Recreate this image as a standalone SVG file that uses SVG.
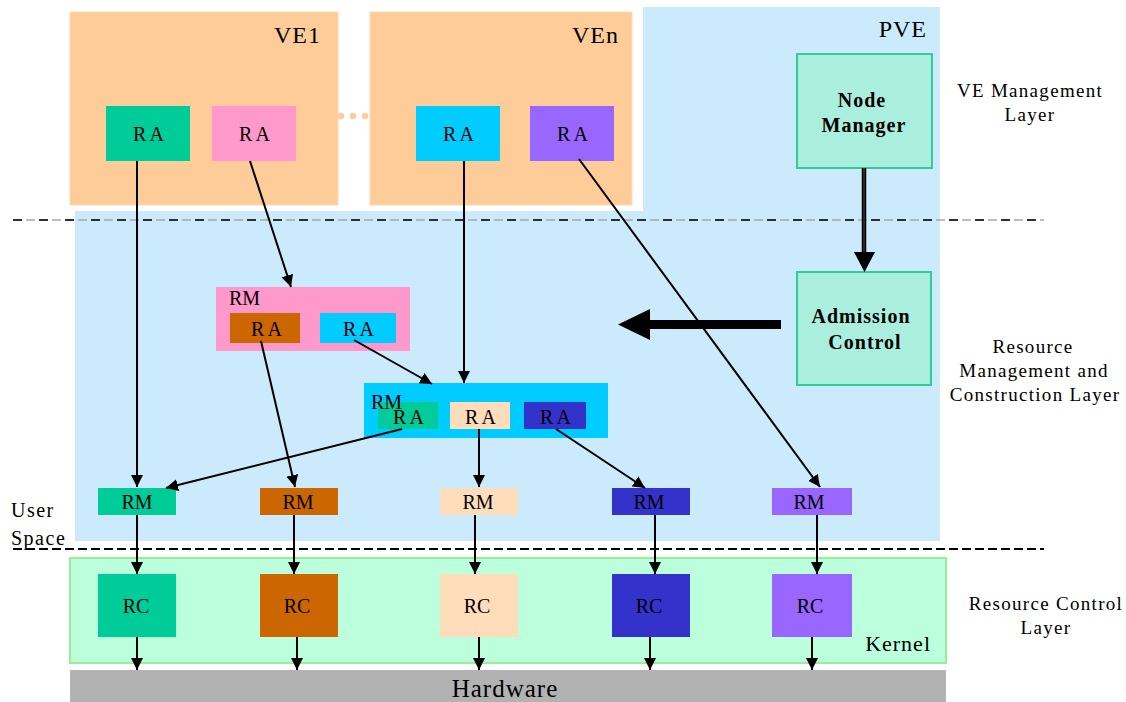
<svg xmlns="http://www.w3.org/2000/svg" width="1126" height="702" viewBox="0 0 1126 702">
  <style>
    text { font-family: "Liberation Serif", "Times New Roman", serif; fill: #000; }
    .lbl { font-size: 20px; text-anchor: middle; }
    .ra { font-size: 20px; text-anchor: middle; letter-spacing: 3px; }
    .big { font-size: 24px; text-anchor: end; letter-spacing: 1px; }
    .layer { font-size: 19px; text-anchor: middle; letter-spacing: 1.3px; }
    .bold { font-size: 20px; font-weight: bold; text-anchor: middle; letter-spacing: 1px; }
    .conn line { stroke: #000; stroke-width: 2; }
  </style>
  <defs>
    <marker id="ah" viewBox="0 0 10 10" refX="10" refY="5" markerWidth="6" markerHeight="6" markerUnits="strokeWidth" orient="auto">
      <path d="M0,0 L10,5 L0,10 z" fill="#000"/>
    </marker>
  </defs>

  <rect width="1126" height="702" fill="#fff"/>

  <!-- PVE area: upper column plus the wide management band -->
  <g id="pve">
    <path d="M643,7 H940 V541 H75 V211 H643 Z" fill="#CBEBFD"/>
    <text class="big" x="927" y="37">PVE</text>
  </g>

  <!-- Virtual environments -->
  <g id="ve1">
    <rect x="70" y="12" width="268" height="193" fill="#FDCC99" stroke="#FFD9B0" stroke-width="1"/>
    <text class="big" x="321" y="43">VE1</text>
  </g>
  <g id="ven">
    <rect x="370" y="12" width="262" height="193" fill="#FDCC99" stroke="#FFD9B0" stroke-width="1"/>
    <text class="big" x="619" y="43">VEn</text>
  </g>
  <g id="dots" fill="#FDCC99">
    <circle cx="341" cy="116" r="3.2"/>
    <circle cx="353" cy="116" r="3.2"/>
    <circle cx="365" cy="116" r="3.2"/>
  </g>

  <g id="ra-ve1-green">
    <rect x="106" y="106" width="84" height="55" fill="#00CC99"/>
    <text class="ra" x="150" y="141">RA</text>
  </g>
  <g id="ra-ve1-pink">
    <rect x="212" y="106" width="84" height="55" fill="#FF99CC"/>
    <text class="ra" x="256" y="141">RA</text>
  </g>
  <g id="ra-ven-cyan">
    <rect x="416" y="106" width="84" height="55" fill="#00CCFF"/>
    <text class="ra" x="460" y="141">RA</text>
  </g>
  <g id="ra-ven-purple">
    <rect x="530" y="106" width="84" height="55" fill="#9966FF"/>
    <text class="ra" x="574" y="141">RA</text>
  </g>

  <!-- Management blocks -->
  <g id="node-manager">
    <rect x="797" y="54" width="135" height="114" fill="#AAEEDD" stroke="#33CC99" stroke-width="2"/>
    <text class="bold" x="862" y="107">Node</text>
    <text class="bold" x="864" y="132">Manager</text>
  </g>
  <g id="admission-control">
    <rect x="797" y="272" width="134" height="113" fill="#AAEEDD" stroke="#33CC99" stroke-width="2"/>
    <text class="bold" x="861" y="323">Admission</text>
    <text class="bold" x="865" y="349">Control</text>
  </g>

  <!-- Composite resource managers -->
  <g id="rm-pink">
    <rect x="216" y="287" width="194" height="64" fill="#FF99CC"/>
    <text x="229" y="305" style="font-size:20px">RM</text>
    <rect x="230" y="313" width="70" height="30" fill="#CC6600"/>
    <text class="ra" x="268" y="336">RA</text>
    <rect x="320" y="313" width="76" height="30" fill="#00CCFF"/>
    <text class="ra" x="360" y="336">RA</text>
  </g>
  <g id="rm-cyan">
    <rect x="364" y="383" width="244" height="55" fill="#00CCFF"/>
    <rect x="378" y="402" width="60" height="27" fill="#00CC99"/>
    <rect x="450" y="402" width="60" height="27" fill="#FFDDBB"/>
    <rect x="524" y="402" width="62" height="27" fill="#3333CC"/>
    <text x="371" y="409" style="font-size:20px">RM</text>
    <text class="ra" x="410" y="424">RA</text>
    <text class="ra" x="482" y="424">RA</text>
    <text class="ra" x="557" y="424">RA</text>
  </g>

  <!-- Per-resource managers -->
  <g id="rm-1"><rect x="98" y="488" width="78" height="27" fill="#00CC99"/><text class="lbl" x="137" y="509">RM</text></g>
  <g id="rm-2"><rect x="260" y="488" width="78" height="27" fill="#CC6600"/><text class="lbl" x="298" y="509">RM</text></g>
  <g id="rm-3"><rect x="440" y="488" width="78" height="27" fill="#FFDDBB"/><text class="lbl" x="478" y="509">RM</text></g>
  <g id="rm-4"><rect x="612" y="488" width="78" height="27" fill="#3333CC"/><text class="lbl" x="649" y="509">RM</text></g>
  <g id="rm-5"><rect x="772" y="488" width="80" height="27" fill="#9966FF"/><text class="lbl" x="809" y="509">RM</text></g>

  <!-- Kernel and hardware -->
  <g id="kernel">
    <rect x="70" y="558" width="876" height="105" fill="#BBFFDD" stroke="#99EE99" stroke-width="2"/>
    <text x="931" y="651" style="font-size:22px;text-anchor:end;letter-spacing:1px">Kernel</text>
  </g>
  <g id="rc-1"><rect x="98" y="574" width="78" height="63" fill="#00CC99"/><text class="lbl" x="136" y="613">RC</text></g>
  <g id="rc-2"><rect x="260" y="574" width="78" height="63" fill="#CC6600"/><text class="lbl" x="297" y="613">RC</text></g>
  <g id="rc-3"><rect x="440" y="574" width="78" height="63" fill="#FFDDBB"/><text class="lbl" x="477" y="613">RC</text></g>
  <g id="rc-4"><rect x="612" y="574" width="78" height="63" fill="#3333CC"/><text class="lbl" x="649" y="613">RC</text></g>
  <g id="rc-5"><rect x="772" y="574" width="80" height="63" fill="#9966FF"/><text class="lbl" x="810" y="613">RC</text></g>
  <g id="hardware">
    <rect x="70" y="670" width="876" height="40" fill="#B2B2B2"/>
    <text x="505" y="697" style="font-size:25px;text-anchor:middle;letter-spacing:1px">Hardware</text>
  </g>

  <!-- Layer boundaries -->
  <g id="boundaries">
    <line x1="13" y1="220" x2="1044" y2="220" stroke="#A8A8A8" stroke-width="1.5" stroke-dasharray="9 4"/>
    <line x1="13" y1="220" x2="1044" y2="220" stroke="#000" stroke-width="1.5" stroke-dasharray="9 17"/>
    <line x1="13" y1="549" x2="1044" y2="549" stroke="#000" stroke-width="2.2" stroke-dasharray="9 4"/>
  </g>

  <!-- Layer captions -->
  <g id="captions">
    <text class="layer" x="1030" y="97">VE Management</text>
    <text class="layer" x="1030" y="121">Layer</text>
    <text class="layer" x="1033" y="353">Resource</text>
    <text class="layer" x="1034" y="377">Management and</text>
    <text class="layer" x="1035" y="401">Construction Layer</text>
    <text class="layer" x="1046" y="610">Resource Control</text>
    <text class="layer" x="1046" y="634">Layer</text>
    <text x="11" y="517" style="font-size:20px;letter-spacing:1.5px">User</text>
    <text x="11" y="545" style="font-size:20px;letter-spacing:1.5px">Space</text>
  </g>

  <!-- Connectors -->
  <g id="connectors" class="conn">
    <line x1="137" y1="161" x2="137" y2="487" marker-end="url(#ah)"/>
    <line x1="250" y1="161" x2="291" y2="287" marker-end="url(#ah)"/>
    <line x1="464" y1="161" x2="464" y2="383" marker-end="url(#ah)"/>
    <line x1="579" y1="159" x2="820" y2="487" marker-end="url(#ah)"/>
    <line x1="354" y1="340" x2="432" y2="384" marker-end="url(#ah)"/>
    <line x1="261" y1="341" x2="295" y2="487" marker-end="url(#ah)"/>
    <line x1="402" y1="429" x2="166" y2="488" marker-end="url(#ah)"/>
    <line x1="479" y1="429" x2="479" y2="487" marker-end="url(#ah)"/>
    <line x1="556" y1="429" x2="645" y2="488" marker-end="url(#ah)"/>

    <line x1="137" y1="515" x2="137" y2="574" marker-end="url(#ah)"/>
    <line x1="294" y1="515" x2="294" y2="574" marker-end="url(#ah)"/>
    <line x1="475" y1="515" x2="475" y2="574" marker-end="url(#ah)"/>
    <line x1="655" y1="515" x2="655" y2="574" marker-end="url(#ah)"/>
    <line x1="817" y1="515" x2="817" y2="574" marker-end="url(#ah)"/>

    <line x1="137" y1="637" x2="137" y2="670" marker-end="url(#ah)"/>
    <line x1="297" y1="637" x2="297" y2="670" marker-end="url(#ah)"/>
    <line x1="479" y1="637" x2="479" y2="670" marker-end="url(#ah)"/>
    <line x1="650" y1="637" x2="650" y2="670" marker-end="url(#ah)"/>
    <line x1="812" y1="637" x2="812" y2="670" marker-end="url(#ah)"/>

    <!-- Node Manager to Admission Control: heavy double-stroke shaft -->
    <path d="M864,168 V254" stroke="#000" stroke-width="4.5" fill="none"/>
    <path d="M864,168 V254" stroke="#555" stroke-width="1" fill="none"/>
    <path d="M854,252 L875,252 L864.5,272 Z" fill="#000"/>

    <!-- Admission Control feedback: bold left arrow -->
    <path d="M781,320 H650 V309 L618,324.5 L650,340 V329 H781 Z" fill="#000"/>
  </g>
</svg>
